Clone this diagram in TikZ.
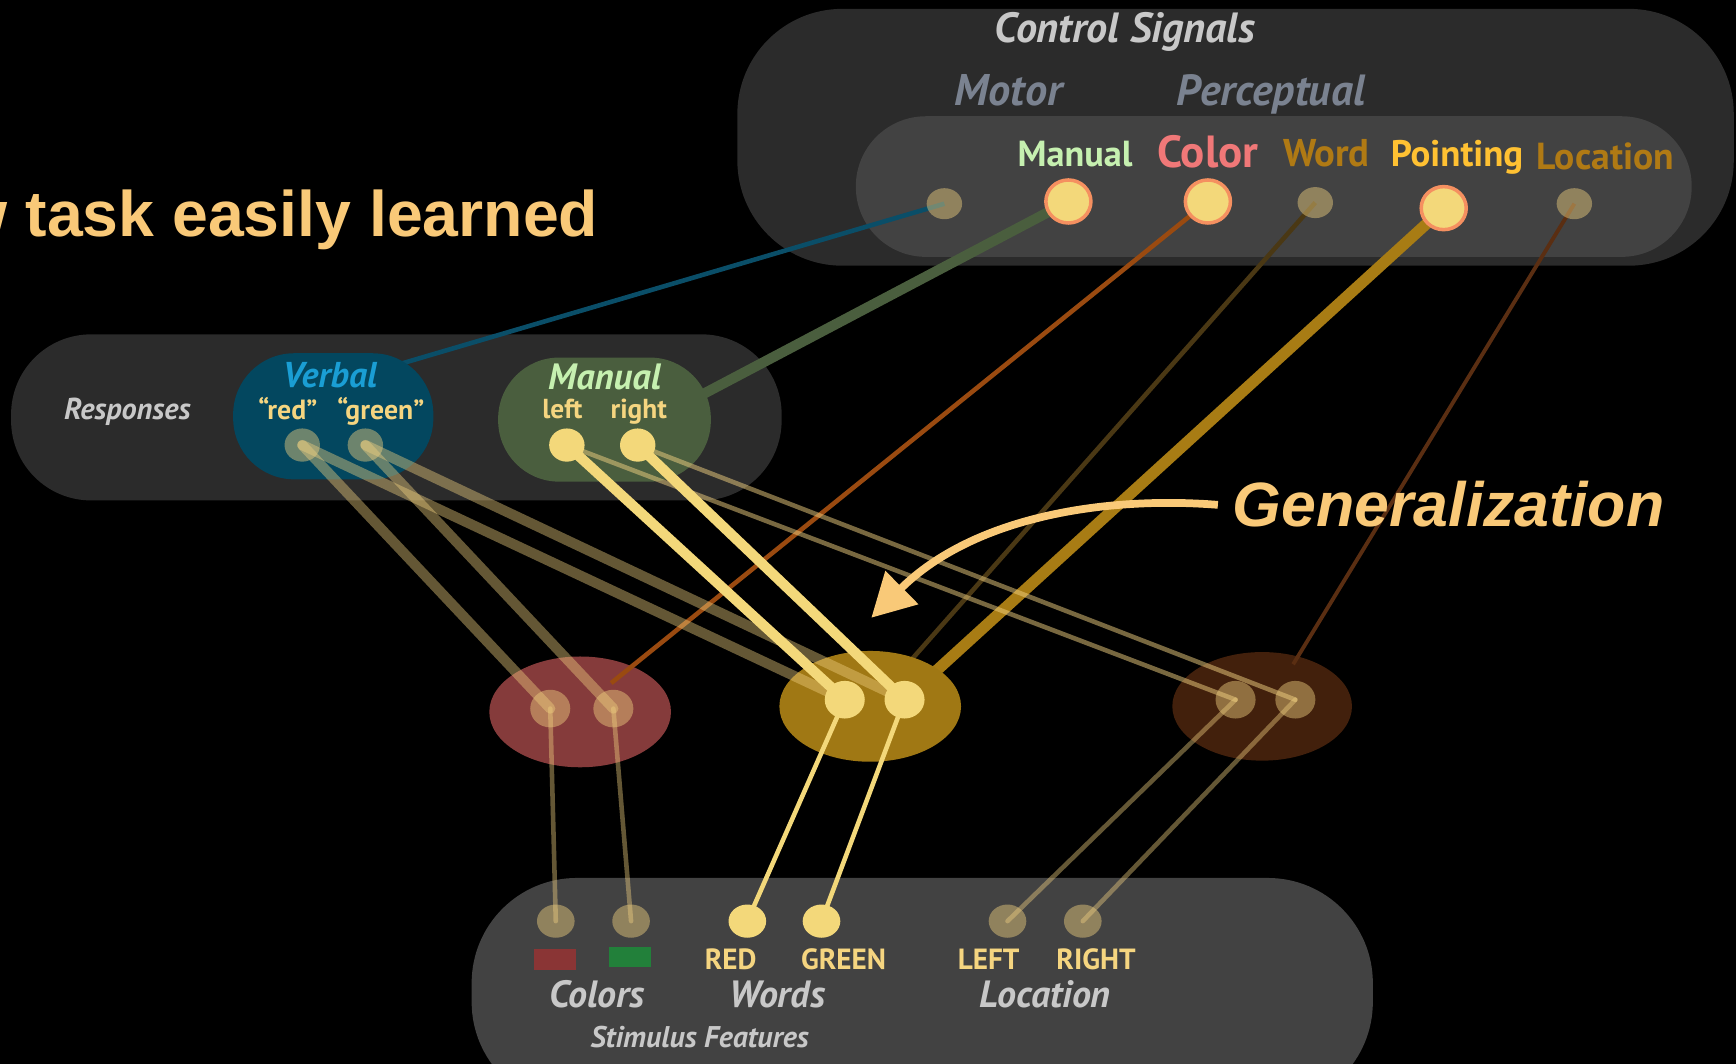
\documentclass[tikz,border=0pt]{standalone}
\usepackage{fontspec}
\usetikzlibrary{shapes.geometric,arrows.meta}
\newfontfamily\gill{PT Sans}
\newfontfamily\arial{Liberation Sans}

\definecolor{boxdark}{HTML}{2B2B2B}
\definecolor{boxmid}{HTML}{424242}
\definecolor{headc}{HTML}{F9C978}
\definecolor{greyc}{HTML}{C8C8C8}
\definecolor{slatec}{HTML}{7A8290}
\definecolor{mintc}{HTML}{C6F0B0}
\definecolor{rosec}{HTML}{F07878}
\definecolor{ochrec}{HTML}{B07A14}
\definecolor{amberc}{HTML}{FFC132}
\definecolor{skyc}{HTML}{1A9ED4}
\definecolor{verbalc}{HTML}{03475F}
\definecolor{handc}{HTML}{4A5E3E}
\definecolor{wordc}{HTML}{F5D580}
\definecolor{hred}{HTML}{853B3B}
\definecolor{hgold}{HTML}{A07814}
\definecolor{hbrown}{HTML}{42200C}
\definecolor{dotc}{HTML}{F0D080}
\definecolor{doty}{HTML}{F3D87A}
\definecolor{ringc}{HTML}{F59060}
\definecolor{tealc}{HTML}{0A4E68}
\definecolor{rustc}{HTML}{9A4A10}
\definecolor{umberc}{HTML}{4A3814}
\definecolor{goldline}{HTML}{A87C14}
\definecolor{sienna}{HTML}{5A2E12}
\definecolor{swred}{HTML}{8A3535}
\definecolor{swgreen}{HTML}{22803A}

\pgfdeclarelayer{boxes}
\pgfdeclarelayer{under}
\pgfdeclarelayer{groups}
\pgfdeclarelayer{over}
\pgfsetlayers{boxes,under,groups,over,main}

\tikzset{
  dimdot/.style={ellipse, fill=dotc, fill opacity=0.45, inner sep=0pt},
  litdot/.style={ellipse, fill=doty, inner sep=0pt},
  topsize/.style={minimum width=0.354cm, minimum height=0.31cm},
  bigdot/.style={ellipse, fill=doty, draw=ringc, line width=1pt, inner sep=0pt,
                 minimum width=0.45cm, minimum height=0.43cm},
  respsize/.style={minimum width=0.354cm, minimum height=0.332cm},
  hidsize/.style={minimum width=0.4cm, minimum height=0.376cm},
  stimsize/.style={minimum width=0.376cm, minimum height=0.332cm},
  hgroup/.style={ellipse, inner sep=0pt, minimum width=1.815cm, minimum height=1.107cm},
  rgroup/.style={rectangle, rounded corners=0.61cm, inner sep=0pt},
  faint/.style={draw=dotc, draw opacity=0.42, line cap=round},
  bright/.style={draw=doty, line cap=round},
  thickw/.style={line width=2.9pt},
  thinw/.style={line width=1.3pt},
  lbl/.style={inner sep=0pt, anchor=base},
}

\begin{document}
\begin{tikzpicture}[x=0.01107cm, y=-0.01107cm]
\useasboundingbox (0,0) rectangle (1568,961);
\clip (0,0) rectangle (1568,961);

\begin{pgfonlayer}{boxes}
  \fill[black] (0,0) rectangle (1568,961);
  % control signals panel
  \fill[boxdark, rounded corners=1.05cm] (666,8) rectangle (1566,240);
  \fill[boxmid, rounded corners=0.7cm] (773,105) rectangle (1528,232);
  % responses panel
  \fill[boxdark, rounded corners=0.8cm] (10,302) rectangle (706,452);
  % stimulus features panel
  \fill[boxmid, rounded corners=1.05cm] (426,793) rectangle (1240,1000);
\end{pgfonlayer}

% ---- control signal units
\node[dimdot, topsize] (cm) at (853,184) {};
\node[bigdot] (cman) at (965,182) {};
\node[bigdot] (ccol) at (1091,182) {};
\node[dimdot, topsize] (cword) at (1188,183) {};
\node[bigdot] (cpoint) at (1304,188) {};
\node[dimdot, topsize] (cloc) at (1422,184) {};

% ---- response groups and hidden groups
\begin{pgfonlayer}{groups}
  \node[rgroup, fill=verbalc, minimum width=2.0cm, minimum height=1.26cm] (verbal) at (301,376) {};
  \node[rgroup, fill=handc, minimum width=2.125cm, minimum height=1.24cm] (manualgrp) at (546,379) {};
  \node[hgroup, fill=hred] (hr) at (524,643) {};
  \node[hgroup, fill=hgold] (hg) at (786,638) {};
  \node[hgroup, fill=hbrown, minimum width=1.795cm, minimum height=1.085cm] (hb) at (1140,638) {};
\end{pgfonlayer}

\node[dimdot, respsize] (rred) at (273,402) {};
\node[dimdot, respsize] (rgreen) at (330,402) {};
\node[litdot, respsize] (rleft) at (512,402) {};
\node[litdot, respsize] (rright) at (576,402) {};

% ---- hidden units
\node[dimdot, hidsize] (h1) at (497,640) {};
\node[dimdot, hidsize] (h2) at (554,640) {};
\node[litdot, hidsize] (h3) at (763,632) {};
\node[litdot, hidsize] (h4) at (817,632) {};
\node[dimdot, hidsize] (h5) at (1116,632) {};
\node[dimdot, hidsize] (h6) at (1170,632) {};

% ---- stimulus units
\node[dimdot, stimsize] (s1) at (502,832) {};
\node[dimdot, stimsize] (s2) at (570,832) {};
\node[litdot, stimsize] (s3) at (675,832) {};
\node[litdot, stimsize] (s4) at (742,832) {};
\node[dimdot, stimsize] (s5) at (910,832) {};
\node[dimdot, stimsize] (s6) at (978,832) {};
\node[fill=swred, inner sep=0pt, minimum width=0.42cm, minimum height=0.21cm] (sqred) at (501,867) {};
\node[fill=swgreen, inner sep=0pt, minimum width=0.42cm, minimum height=0.2cm] (sqgreen) at (569,864) {};

% ---- free ends of control lines
\coordinate (mend) at (330,338);
\coordinate (hend) at (580,385);
\coordinate (colend) at (552,617);
\coordinate (locend) at (1168,600);

% ---- connections running beneath the groups
\begin{pgfonlayer}{under}
  \draw[tealc, line width=1.3pt] (cm.center) -- (mend);
  \draw[handc, line width=2.9pt] (cman.center) -- (hend);
  \draw[umberc, line width=1.3pt] (cword.center) -- (hg.center);
  \draw[goldline, line width=3.2pt] (cpoint.center) -- (h4.center);
\end{pgfonlayer}

% ---- connections over the groups
\begin{pgfonlayer}{over}
  \draw[rustc, line width=1.3pt] (ccol.center) -- (colend);
  \draw[sienna, line width=1.1pt] (cloc.center) -- (locend);
  % responses to hidden units
  \draw[faint, thickw] (rred.center) -- (h1.center);
  \draw[faint, thickw] (rred.center) -- (h3.center);
  \draw[faint, thickw] (rgreen.center) -- (h2.center);
  \draw[faint, thickw] (rgreen.center) -- (h4.center);
  \draw[faint, thinw, draw opacity=0.5] (rleft.center) -- (h5.center);
  \draw[faint, thinw, draw opacity=0.5] (rright.center) -- (h6.center);
  \draw[bright, thickw] (rleft.center) -- (h3.center);
  \draw[bright, thickw] (rright.center) -- (h4.center);
  % hidden units to stimulus features
  \draw[faint, thinw] (h1.center) -- (s1.center);
  \draw[faint, thinw] (h2.center) -- (s2.center);
  \draw[bright, thinw] (h3.center) -- (s3.center);
  \draw[bright, thinw] (h4.center) -- (s4.center);
  \draw[faint, thinw] (h5.center) -- (s5.center);
  \draw[faint, thinw] (h6.center) -- (s6.center);
\end{pgfonlayer}

% ---- panel labels
\node[lbl, text=greyc, font=\gill\bfseries\itshape\fontsize{12}{14}\selectfont] (tcs) at (1016,38) {Control Signals};
\node[lbl, text=slatec, font=\gill\bfseries\itshape\fontsize{12.6}{15}\selectfont] (tmot) at (911,95) {Motor};
\node[lbl, text=slatec, font=\gill\bfseries\itshape\fontsize{12.4}{15}\selectfont] (tper) at (1148,95) {Perceptual};
\node[lbl, text=mintc, font=\gill\bfseries\fontsize{10.3}{12}\selectfont] (tman) at (971,150) {Manual};
\node[lbl, text=rosec, font=\gill\bfseries\fontsize{12.8}{15}\selectfont] (tcol) at (1091,151) {Color};
\node[lbl, text=ochrec, font=\gill\bfseries\fontsize{11}{13}\selectfont] (tword) at (1198,150) {Word};
\node[lbl, text=amberc, font=\gill\bfseries\fontsize{10.5}{12}\selectfont] (tpoint) at (1316,150) {Pointing};
\node[lbl, text=ochrec, font=\gill\bfseries\fontsize{10.7}{12}\selectfont] (tloc) at (1450,153) {Location};

\node[lbl, text=greyc, font=\gill\bfseries\itshape\fontsize{8.6}{10}\selectfont] (tresp) at (115,379) {Responses};
\node[lbl, text=skyc, font=\gill\bfseries\itshape\fontsize{10.2}{12}\selectfont] (tverb) at (298,350) {Verbal};
\node[lbl, text=wordc, font=\gill\bfseries\fontsize{7.9}{9}\selectfont] (tred) at (260,379) {“red”};
\node[lbl, text=wordc, font=\gill\bfseries\fontsize{7.9}{9}\selectfont] (tgreen) at (344,379) {“green”};
\node[lbl, text=mintc, font=\gill\bfseries\itshape\fontsize{10.4}{12}\selectfont] (thand) at (546,352) {Manual};
\node[lbl, text=wordc, font=\gill\bfseries\fontsize{7.8}{9}\selectfont] (tleft) at (508,378) {left};
\node[lbl, text=wordc, font=\gill\bfseries\fontsize{7.8}{9}\selectfont] (tright) at (577,378) {right};

\node[lbl, text=wordc, font=\gill\bfseries\fontsize{8.3}{10}\selectfont] (wred) at (660,876) {RED};
\node[lbl, text=wordc, font=\gill\bfseries\fontsize{8.3}{10}\selectfont] (wgreen) at (762,876) {GREEN};
\node[lbl, text=wordc, font=\gill\bfseries\fontsize{8.3}{10}\selectfont] (wleft) at (893,876) {LEFT};
\node[lbl, text=wordc, font=\gill\bfseries\fontsize{8.3}{10}\selectfont] (wright) at (990,876) {RIGHT};
\node[lbl, text=greyc, font=\gill\bfseries\itshape\fontsize{10.8}{13}\selectfont] (tcolors) at (539,910) {Colors};
\node[lbl, text=greyc, font=\gill\bfseries\itshape\fontsize{10.8}{13}\selectfont] (twords) at (702,910) {Words};
\node[lbl, text=greyc, font=\gill\bfseries\itshape\fontsize{10.8}{13}\selectfont] (tlocs) at (944,910) {Location};
\node[lbl, text=greyc, font=\gill\bfseries\itshape\fontsize{8.5}{10}\selectfont] (tstim) at (632,946) {Stimulus Features};

% ---- headline and generalization callout
\node[inner sep=0pt, anchor=base east, text=headc, font=\arial\bfseries\fontsize{18.3}{22}\selectfont] (title) at (541,214) {w task easily learned};
\node[inner sep=0pt, anchor=base west, text=headc, font=\arial\bfseries\itshape\fontsize{17.8}{22}\selectfont] (tgen) at (1113,476) {Generalization};
\coordinate (gstart) at (1100,456);
\coordinate (gtip) at (787,558);
\draw[headc, line width=2.2pt, -{Triangle[length=0.43cm, width=0.45cm]}]
  (gstart) .. controls (1000,448) and (880,466) .. (gtip);
\end{tikzpicture}
\end{document}
